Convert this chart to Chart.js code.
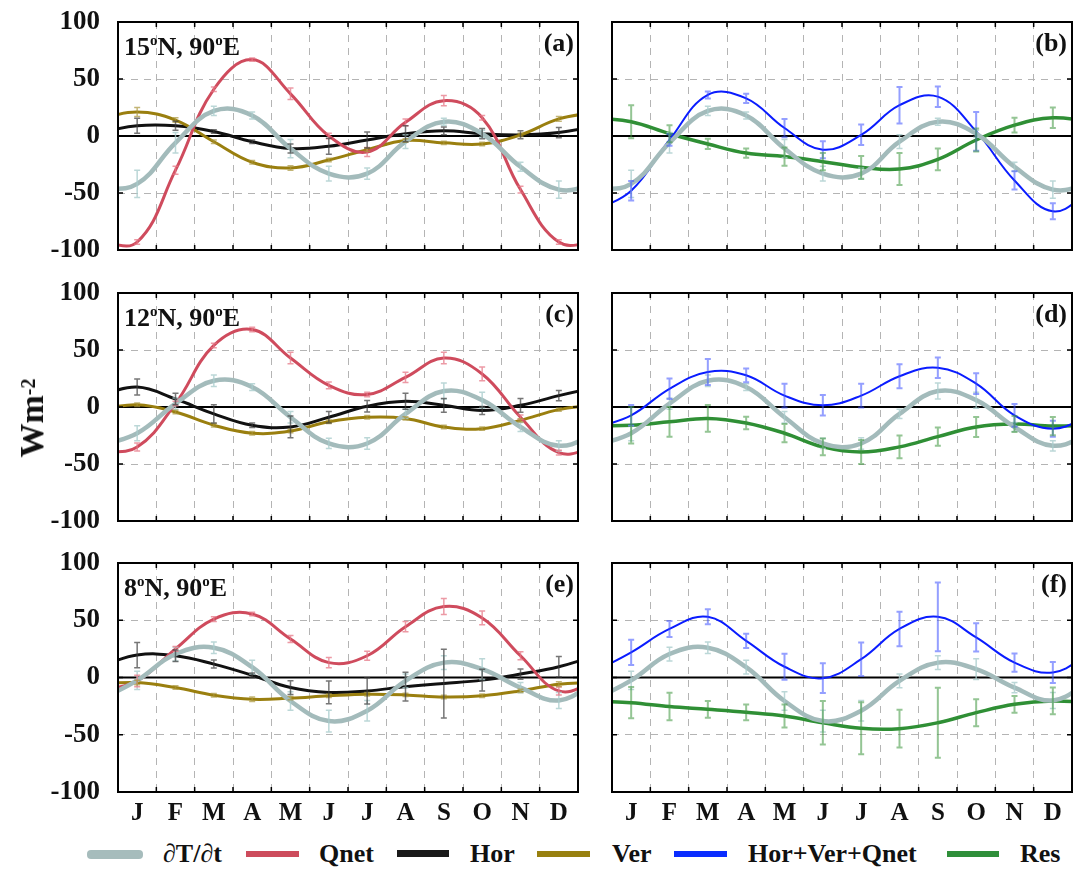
<!DOCTYPE html>
<html lang="en">
<head>
<meta charset="UTF-8">
<title>Seasonal mixed layer heat budget along 90E</title>
<style>
  body { margin: 0; background: #fff; }
  #fig {
    position: relative; width: 1084px; height: 869px; overflow: hidden;
    font-family: 'Liberation Serif', 'Times New Roman', serif; font-weight: bold; color: #111;
  }
  #fig canvas { position: absolute; }
  .loc, .tag, .lg { position: absolute; font-size: 26px; line-height: 26px; white-space: nowrap; }
  .loc sup { font-size: 15px; vertical-align: 0; position: relative; top: -10px; }
  .sw { position: absolute; }
  #ytitle {
    position: absolute; left: 32px; top: 418px; font-size: 34px; line-height: 34px; white-space: nowrap;
    transform: translate(-50%, -50%) rotate(-90deg);
  }
  #ytitle sup { font-size: 20px; position: relative; top: -4px; vertical-align: top; }
</style>
</head>
<body>
<div id="fig">
  <canvas id="pa" width="590" height="264" style="left:0;top:0"></canvas>
  <canvas id="pb" width="484" height="264" style="left:600px;top:0"></canvas>
  <canvas id="pc" width="590" height="264" style="left:0;top:271px"></canvas>
  <canvas id="pd" width="484" height="264" style="left:600px;top:271px"></canvas>
  <canvas id="pe" width="590" height="285" style="left:0;top:541px"></canvas>
  <canvas id="pf" width="484" height="285" style="left:600px;top:541px"></canvas>

  <div class="loc" style="left:124px;top:34px">15<sup>o</sup>N, 90<sup>o</sup>E</div>
  <div class="loc" style="left:124px;top:305px">12<sup>o</sup>N, 90<sup>o</sup>E</div>
  <div class="loc" style="left:124px;top:575px">8<sup>o</sup>N, 90<sup>o</sup>E</div>
  <div class="tag" style="right:510px;top:30px">(a)</div>
  <div class="tag" style="right:17px;top:30px">(b)</div>
  <div class="tag" style="right:510px;top:301px">(c)</div>
  <div class="tag" style="right:17px;top:301px">(d)</div>
  <div class="tag" style="right:510px;top:571px">(e)</div>
  <div class="tag" style="right:17px;top:571px">(f)</div>

  <div id="ytitle">Wm<sup>-2</sup></div>

  <div class="sw" style="left:87px;top:850px;width:56px;height:9px;border-radius:4px;background:#a6bcbc"></div>
  <div class="lg" style="left:163px;top:841px">∂T/∂t</div>
  <div class="sw" style="left:246px;top:851px;width:53px;height:6px;background:#cd4c5c"></div>
  <div class="lg" style="left:319px;top:841px">Qnet</div>
  <div class="sw" style="left:397px;top:850px;width:52px;height:7px;background:#1a1a1a"></div>
  <div class="lg" style="left:470px;top:841px">Hor</div>
  <div class="sw" style="left:537px;top:851px;width:53px;height:6px;background:#98800f"></div>
  <div class="lg" style="left:612px;top:841px">Ver</div>
  <div class="sw" style="left:674px;top:851px;width:53px;height:6px;background:#0a2cff"></div>
  <div class="lg" style="left:748px;top:841px">Hor+Ver+Qnet</div>
  <div class="sw" style="left:947px;top:851px;width:52px;height:6px;background:#2f8f3a"></div>
  <div class="lg" style="left:1020px;top:841px">Res</div>
</div>

<script src="https://cdn.jsdelivr.net/npm/chart.js"></script>
<script>
  const months = ['J', 'F', 'M', 'A', 'M', 'J', 'J', 'A', 'S', 'O', 'N', 'D'];
  const yTickValues = [-100, -50, 0, 50, 100];

  // 15N, 90E
  const dTdt15 = [-42, -6, 22, 18, -11, -33, -33, -5, 12.5, 2, -27, -47];
  const dTdt15Err = [12, 9, 4, 3, 8, 6.5, 5, 6, 3, 3, 4, 7.5];
  const qnet15 = [-93, -30, 41, 67, 37, 0, -14, 12, 31, 16, -47, -93];
  const qnet15Err = [2, 3.5, 2, 1.5, 5, 2.5, 4, 3, 4.5, 2, 3, 2];
  const hor15 = [9, 9, 4, -5, -11, -9, -3.5, 2, 4.5, 2, 1, 3];
  const hor15Err = [6.5, 4, 1.5, 1.5, 4, 7, 7, 7, 3.5, 4.5, 3.5, 4.5];
  const ver15 = [21, 14, -5, -23, -28, -21, -12, -4, -6, -7, 1, 15];
  const ver15Err = [4, 2, 1.5, 1.5, 2, 1.5, 1.5, 1.5, 1.5, 1.5, 1.5, 2];
  const sum15 = [-48, -3.5, 36, 33, 7, -12, 1, 27, 34.5, 4, -39, -66];
  const sum15Err = [8.5, 5, 3, 4, 8, 7.5, 9, 16, 9, 17, 8, 7];
  const res15 = [12.5, 2, -7, -15, -18, -22.5, -27.5, -29, -20.5, -3.5, 9.5, 16];
  const res15Err = [14.5, 7.5, 4.5, 4, 8, 7.5, 10, 14, 9.5, 10, 6.5, 9];

  // 12N, 90E
  const dTdt12 = [-23, 3, 23, 17.5, -9, -32, -32, -6, 14, 6, -17.5, -34];
  const dTdt12Err = [6.5, 5, 5, 3, 5, 4.5, 5, 4, 7, 7, 4, 4.5];
  const qnet12 = [-35, 3, 54, 68, 43, 19, 11, 26, 43, 29, -9, -40];
  const qnet12Err = [3.5, 2, 2, 2, 5, 3, 2, 4.5, 5, 6, 2, 2];
  const hor12 = [17.5, 7, -6, -16, -17.5, -9, 0.6, 5, 1.5, -3, 1.5, 10];
  const hor12Err = [7, 5, 8, 2, 9.5, 5, 5, 7, 6, 3.5, 6, 4.5];
  const ver12 = [2, -4.4, -16, -23, -21, -13, -9, -10, -17.5, -19, -11.7, -2.3];
  const ver12Err = [1.5, 1.5, 1.5, 1.5, 1.5, 1.5, 1.5, 1.5, 1.5, 1.5, 1.5, 1.5];
  const sum12 = [-7.3, 16, 30.7, 27.8, 10, 1.5, 10, 27, 34.5, 20.5, -7.3, -19];
  const sum12Err = [9, 9, 11.5, 6, 10.5, 9, 10.5, 10.5, 9, 9, 10, 7];
  const res12 = [-16, -13, -10, -14, -23, -35, -39.5, -35, -26, -17.5, -15, -16.7];
  const res12Err = [16, 13, 11.7, 5.5, 8, 7.3, 10.5, 10, 8, 8.8, 7, 8];

  // 8N, 90E
  const dTdt8 = [-2.5, 20.5, 26, 9, -20.5, -38, -29, -3, 13, 7.3, -8.8, -20];
  const dTdt8Err = [8, 6, 5, 6, 8, 9.5, 9, 6, 6, 9, 4.5, 7];
  const qnet8 = [-3, 25, 51, 55.5, 33.6, 13, 19, 44.4, 62, 52, 19, -11.7];
  const qnet8Err = [5, 2, 2, 1.5, 3, 4.5, 4, 4.5, 7, 6, 3.5, 3.5];
  const hor8 = [19.6, 19, 11.7, 2, -8.8, -13, -11.7, -8, -5.3, -2.3, 3, 9.4];
  const hor8Err = [11, 5, 3.5, 2, 6, 10, 11.5, 12.5, 30, 9.5, 4.5, 9];
  const ver8 = [-4.4, -8.8, -15.5, -19, -18, -16, -14.6, -15.2, -17, -16, -11.7, -5.8];
  const ver8Err = [2, 1.5, 1.5, 2, 1.5, 1.5, 1.5, 1.5, 1.5, 1.5, 1.5, 2];
  const sum8 = [22, 42.4, 53, 32, 9.4, -0.6, 16, 42.4, 53, 35, 13, 4.4];
  const sum8Err = [11, 7, 6.5, 6.3, 11.3, 13, 14.6, 15, 30, 12.4, 8, 9.2];
  const res8 = [-22, -25.4, -27.8, -30.4, -33.6, -39.5, -44.4, -44.7, -39.5, -30.7, -23.4, -20.5];
  const res8Err = [13.6, 12, 7.3, 6.9, 10, 19, 22.7, 16.5, 30.6, 11.8, 7.3, 11.7];

  const FONT = "'Liberation Serif', 'Times New Roman', serif";
  const styles = {
    dTdt: { color: '#a3bbbb', width: 4.5, errColor: 'rgba(170,205,205,0.8)', errWidth: 1.5 },
    qnet: { color: '#cf4b5d', width: 3, errColor: 'rgba(230,120,135,0.75)', errWidth: 1.5 },
    hor: { color: '#111111', width: 3, errColor: 'rgba(60,60,60,0.7)', errWidth: 1.5 },
    ver: { color: '#9a7f0f', width: 3, errColor: 'rgba(170,150,60,0.7)', errWidth: 1.5 },
    sum: { color: '#0a1cff', width: 2, errColor: 'rgba(60,80,255,0.55)', errWidth: 2 },
    res: { color: '#2f8f35', width: 3.5, errColor: 'rgba(60,150,60,0.55)', errWidth: 2 }
  };

  // zero line, frame and inward tick marks
  const frame = {
    id: 'frame',
    beforeDatasetsDraw(chart) {
      const { ctx, chartArea: a, scales: { y } } = chart;
      const y0 = y.getPixelForValue(0);
      ctx.save();
      ctx.strokeStyle = '#000';
      ctx.lineWidth = 2;
      ctx.beginPath();
      ctx.moveTo(a.left, y0);
      ctx.lineTo(a.right, y0);
      ctx.stroke();
      ctx.restore();
    },
    afterDraw(chart) {
      const { ctx, chartArea: a, scales: { x, y } } = chart;
      ctx.save();
      ctx.strokeStyle = '#000';
      ctx.lineWidth = 2;
      ctx.strokeRect(a.left, a.top, a.right - a.left, a.bottom - a.top);
      ctx.lineWidth = 1.5;
      ctx.beginPath();
      for (let m = 1; m < 12; m++) {
        const px = x.getPixelForValue(m);
        ctx.moveTo(px, a.top); ctx.lineTo(px, a.top + 5);
        ctx.moveTo(px, a.bottom); ctx.lineTo(px, a.bottom - 5);
      }
      yTickValues.slice(1, -1).forEach(v => {
        const py = y.getPixelForValue(v);
        ctx.moveTo(a.left, py); ctx.lineTo(a.left + 5, py);
        ctx.moveTo(a.right, py); ctx.lineTo(a.right - 5, py);
      });
      ctx.stroke();
      ctx.restore();
    }
  };

  const errorBars = {
    id: 'errorBars',
    afterDatasetsDraw(chart) {
      const { ctx, chartArea: a, scales: { x, y } } = chart;
      ctx.save();
      ctx.beginPath();
      ctx.rect(a.left, a.top, a.right - a.left, a.bottom - a.top);
      ctx.clip();
      chart.data.datasets.forEach(ds => {
        ctx.strokeStyle = ds.errColor;
        ctx.lineWidth = ds.errWidth;
        ds.err.forEach((e, i) => {
          const px = x.getPixelForValue(i + 0.5);
          const top = y.getPixelForValue(ds.monthly[i] + e);
          const bot = y.getPixelForValue(ds.monthly[i] - e);
          ctx.beginPath();
          ctx.moveTo(px, top); ctx.lineTo(px, bot);
          ctx.moveTo(px - 3, top); ctx.lineTo(px + 3, top);
          ctx.moveTo(px - 3, bot); ctx.lineTo(px + 3, bot);
          ctx.stroke();
        });
      });
      ctx.restore();
    }
  };

  function panel(id, series, isLeft, isBottom) {
    const datasets = series.map(([values, err, st]) => ({
      // December repeated before January and January after December, so the
      // seasonal cycle wraps smoothly at the plot edges
      data: [{ x: -0.5, y: values[11] }]
        .concat(values.map((v, i) => ({ x: i + 0.5, y: v })))
        .concat([{ x: 12.5, y: values[0] }]),
      borderColor: st.color,
      borderWidth: st.width,
      tension: 0.4,
      pointRadius: 0,
      fill: false,
      monthly: values,
      err: err,
      errColor: st.errColor,
      errWidth: st.errWidth
    }));

    new Chart(document.getElementById(id), {
      type: 'line',
      data: { datasets },
      plugins: [frame, errorBars],
      options: {
        responsive: false,
        animation: false,
        devicePixelRatio: 1,
        layout: { padding: { left: isLeft ? 0 : 12, right: 12, top: 22, bottom: isBottom ? 0 : 14 } },
        plugins: { legend: { display: false }, tooltip: { enabled: false } },
        scales: {
          x: {
            type: 'linear', min: 0, max: 12,
            afterFit: s => {
              s.height = isBottom ? 34 : 0;
              s.paddingLeft = 0; s.paddingRight = 0; s.paddingTop = 0; s.paddingBottom = 0;
            },
            ticks: {
              display: isBottom, stepSize: 0.5, autoSkip: false, maxRotation: 0, padding: 9,
              color: '#111', font: { family: FONT, size: 25, weight: 'bold', lineHeight: 1 },
              callback: v => (v % 1 === 0.5 ? months[Math.floor(v)] : '')
            },
            grid: {
              drawTicks: false, lineWidth: 1,
              color: c => (c.tick && c.tick.value % 1 === 0 && c.tick.value > 0 && c.tick.value < 12) ? '#b4b4b4' : 'rgba(0,0,0,0)'
            },
            border: { display: false, dash: [7, 6] }
          },
          y: {
            min: -100, max: 100,
            afterFit: s => {
              s.width = isLeft ? 118 : 0;
              s.paddingLeft = 0; s.paddingRight = 0; s.paddingTop = 0; s.paddingBottom = 0;
            },
            afterBuildTicks: s => { s.ticks = yTickValues.map(v => ({ value: v })); },
            ticks: {
              display: isLeft, padding: 18, color: '#111',
              font: { family: FONT, size: 27, weight: 'bold' }
            },
            grid: {
              drawTicks: false, lineWidth: 1,
              color: c => (c.tick && Math.abs(c.tick.value) === 50) ? '#b4b4b4' : 'rgba(0,0,0,0)'
            },
            border: { display: false, dash: [7, 6] }
          }
        }
      }
    });
  }

  panel('pa', [[dTdt15, dTdt15Err, styles.dTdt], [qnet15, qnet15Err, styles.qnet], [ver15, ver15Err, styles.ver], [hor15, hor15Err, styles.hor]], true, false);
  panel('pb', [[dTdt15, dTdt15Err, styles.dTdt], [sum15, sum15Err, styles.sum], [res15, res15Err, styles.res]], false, false);
  panel('pc', [[dTdt12, dTdt12Err, styles.dTdt], [qnet12, qnet12Err, styles.qnet], [ver12, ver12Err, styles.ver], [hor12, hor12Err, styles.hor]], true, false);
  panel('pd', [[dTdt12, dTdt12Err, styles.dTdt], [sum12, sum12Err, styles.sum], [res12, res12Err, styles.res]], false, false);
  panel('pe', [[dTdt8, dTdt8Err, styles.dTdt], [qnet8, qnet8Err, styles.qnet], [ver8, ver8Err, styles.ver], [hor8, hor8Err, styles.hor]], true, true);
  panel('pf', [[dTdt8, dTdt8Err, styles.dTdt], [sum8, sum8Err, styles.sum], [res8, res8Err, styles.res]], false, true);
</script>
</body>
</html>
